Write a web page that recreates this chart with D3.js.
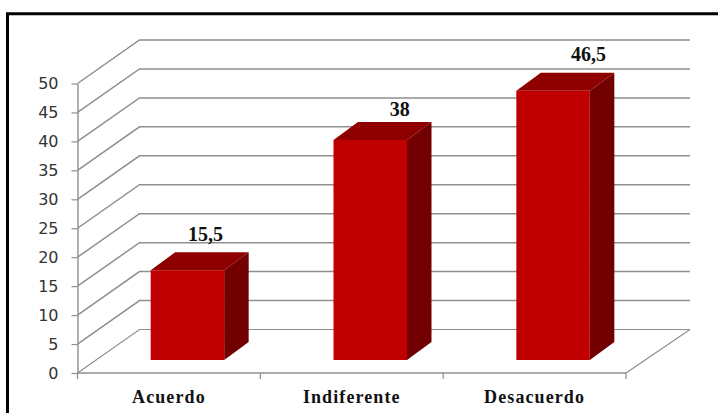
<!DOCTYPE html>
<html>
<head>
<meta charset="utf-8">
<script src="https://cdnjs.cloudflare.com/ajax/libs/d3/7.8.5/d3.min.js"></script>
<style>
  html, body { margin: 0; padding: 0; background: #fff; }
  svg { display: block; }
</style>
</head>
<body>
<svg id="chart" width="718" height="413"></svg>
<script>
const categories = ["Acuerdo", "Indiferente", "Desacuerdo"];
const values = [15.5, 38, 46.5];
const valueLabels = ["15,5", "38", "46,5"];
const yTicks = [0, 5, 10, 15, 20, 25, 30, 35, 40, 45, 50];

const svg = d3.select("#chart");

// Plot geometry: front plane of the 3D box and the offset of its back wall
const plot = { left: 77.5, right: 626, top: 83.5, bottom: 373 };
const wall = { dx: 62, dy: -43.5 };
const bar = { width: 73.5, dx: 24.5, dy: -18, shiftX: 18.5, shiftY: -13 };

// Value labels were placed by hand, each with its own offset from the bar's top centre
const labelShift = [[18, -29.5], [29.5, -24], [35.5, -29.5]];

const x = d3.scaleBand().domain(categories).range([plot.left, plot.right]);
const y = d3.scaleLinear().domain([0, 50]).range([plot.bottom, plot.top]);

const gridColor = "#8f8f8f";

// Picture frame: only the top and left edges are visible
svg.append("path")
  .attr("d", d3.line()([[7.5, 413], [7.5, 13.7], [718, 13.7]]))
  .attr("fill", "none")
  .attr("stroke", "#000")
  .attr("stroke-width", 3);

// Gridlines running along the side wall and across the back wall
const grid = svg.append("g").attr("fill", "none").attr("stroke", gridColor);
grid.selectAll("path")
  .data(yTicks)
  .join("path")
  .attr("stroke-width", d => d === 0 ? 1.2 : 1.5)
  .attr("d", d => d3.line()([
    [plot.left, y(d)],
    [plot.left + wall.dx, y(d) + wall.dy],
    [plot.right + wall.dx + 2, y(d) + wall.dy]
  ]));

// Floor edge on the right-hand side
grid.append("path")
  .attr("stroke-width", 1.2)
  .attr("d", d3.line()([
    [plot.right, plot.bottom],
    [plot.right + wall.dx + 2, plot.bottom + wall.dy]
  ]));

// Value axis
const yAxis = svg.append("g")
  .attr("transform", `translate(${plot.left},0)`)
  .call(d3.axisLeft(y).tickValues(yTicks).tickSize(6).tickPadding(13).tickSizeOuter(0));
yAxis.select(".domain").attr("stroke", gridColor).attr("stroke-width", 1.4);
yAxis.selectAll(".tick line").attr("stroke", gridColor).attr("stroke-width", 1.2);
yAxis.selectAll("text")
  .attr("font-family", "'DejaVu Sans', Verdana, sans-serif")
  .attr("font-size", 16)
  .attr("fill", "#333");

// Category axis: baseline, ticks at the band edges, labels at the band centres
const xAxis = svg.append("g")
  .attr("transform", `translate(0,${plot.bottom})`)
  .call(d3.axisBottom(x).tickSize(0).tickPadding(17));
xAxis.select(".domain").remove();
xAxis.selectAll("text")
  .attr("font-family", "'Liberation Serif', 'Times New Roman', serif")
  .attr("font-size", 18)
  .attr("font-weight", "bold")
  .attr("letter-spacing", 1.1)
  .attr("fill", "#111");

const edges = categories.map(c => x(c)).concat([plot.right]);
svg.append("line")
  .attr("x1", plot.left).attr("x2", plot.right)
  .attr("y1", plot.bottom).attr("y2", plot.bottom)
  .attr("stroke", gridColor).attr("stroke-width", 1.4);
svg.append("g").selectAll("line")
  .data(edges)
  .join("line")
  .attr("x1", d => d).attr("x2", d => d)
  .attr("y1", plot.bottom).attr("y2", plot.bottom + 6)
  .attr("stroke", gridColor).attr("stroke-width", 1.2);

// 3D bars: side, top and front faces
const bars = svg.append("g").selectAll("g")
  .data(categories.map((c, i) => ({ c, v: values[i], label: valueLabels[i], shift: labelShift[i] })))
  .join("g");

const barLeft = d => x(d.c) + (x.bandwidth() - bar.width) / 2 + bar.shiftX;
const barBase = plot.bottom + bar.shiftY;
const barTop = d => barBase - (y(0) - y(d.v));

bars.append("path")
  .attr("fill", "#720000")
  .attr("d", d => {
    const r = barLeft(d) + bar.width;
    return d3.line()([[r, barTop(d)], [r + bar.dx, barTop(d) + bar.dy], [r + bar.dx, barBase + bar.dy], [r, barBase]]) + "Z";
  });

bars.append("path")
  .attr("fill", "#8e0000")
  .attr("d", d => {
    const l = barLeft(d), r = l + bar.width;
    return d3.line()([[l, barTop(d)], [l + bar.dx, barTop(d) + bar.dy], [r + bar.dx, barTop(d) + bar.dy], [r, barTop(d)]]) + "Z";
  });

bars.append("rect")
  .attr("fill", "#c00000")
  .attr("x", barLeft)
  .attr("y", barTop)
  .attr("width", bar.width)
  .attr("height", d => barBase - barTop(d));

// Value labels above each bar
bars.append("text")
  .attr("x", d => barLeft(d) + bar.width / 2 + d.shift[0])
  .attr("y", d => barTop(d) + d.shift[1])
  .attr("text-anchor", "middle")
  .attr("font-family", "'Liberation Serif', 'Times New Roman', serif")
  .attr("font-size", 20)
  .attr("font-weight", "bold")
  .attr("fill", "#111")
  .text(d => d.label);
</script>
</body>
</html>
